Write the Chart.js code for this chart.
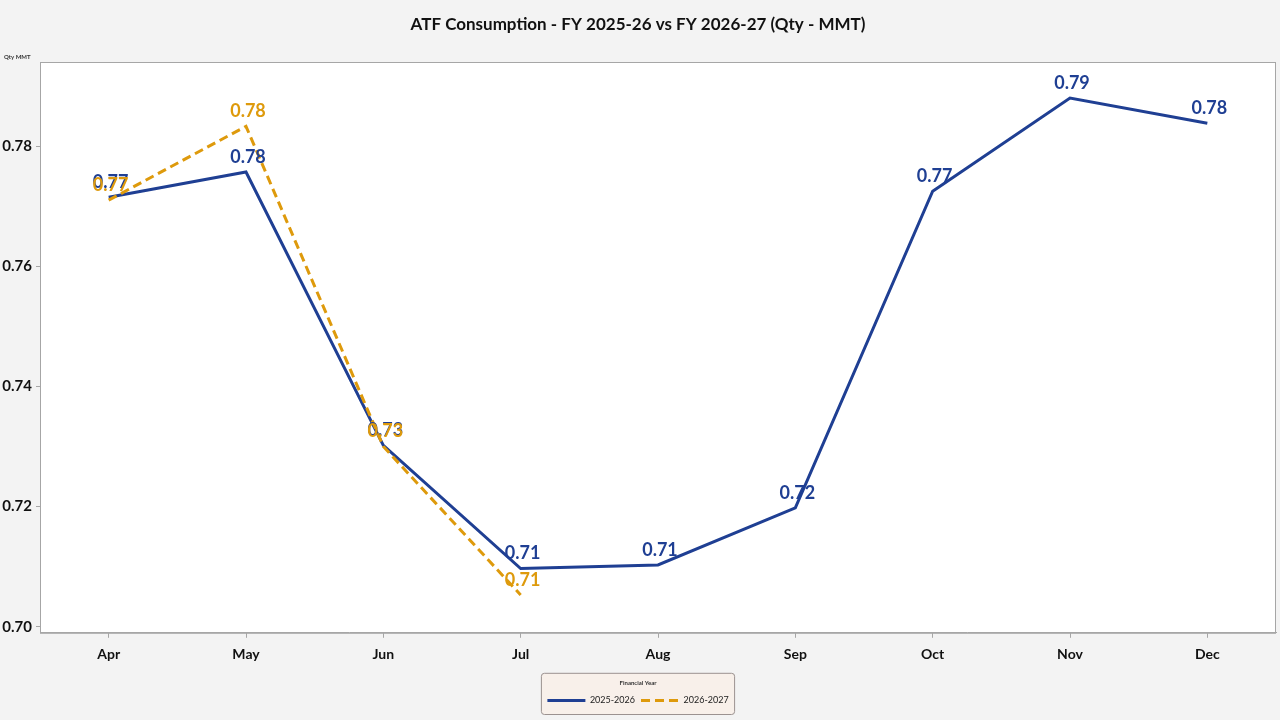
<!DOCTYPE html>
<html>
<head>
<meta charset="utf-8">
<title>ATF Consumption</title>
<script src="https://cdn.jsdelivr.net/npm/chart.js@4.4.1/dist/chart.umd.min.js"></script>
<style>
  html, body { margin: 0; padding: 0; background: #f3f3f3; }
  #wrap { width: 1280px; height: 720px; }
</style>
</head>
<body>
<div id="wrap"><canvas id="myChart" width="1280" height="720"></canvas></div>
<script>
var months = ["Apr", "May", "Jun", "Jul", "Aug", "Sep", "Oct", "Nov", "Dec"];
var fy2526 = [0.7715, 0.7757, 0.7302, 0.7097, 0.7103, 0.7198, 0.7725, 0.7880, 0.7838];
var fy2627 = [0.7710, 0.7833, 0.7300, 0.7053];
var seriesNames = ["2025-2026", "2026-2027"];
var yTicks = [0.70, 0.72, 0.74, 0.76, 0.78];

var blue = '#1f3f93';
var orange = '#de9a0c';
var fontName = 'Lato, "Open Sans", sans-serif';

// backgrounds, plot frame and legend box
const framePlugin = {
  id: 'frame',
  beforeDraw(chart) {
    const ctx = chart.ctx;
    const a = chart.chartArea;
    ctx.save();
    ctx.fillStyle = '#f3f3f3';
    ctx.fillRect(0, 0, chart.width, chart.height);
    ctx.fillStyle = '#ffffff';
    ctx.fillRect(a.left, a.top, a.right - a.left, a.bottom - a.top);
    ctx.strokeStyle = '#a6a6a6';
    ctx.lineWidth = 1;
    ctx.strokeRect(a.left + 0.5, a.top + 0.5, a.right - a.left - 1, a.bottom - a.top);

    // legend box
    const lg = chart.legend;
    if (lg && lg.legendHitBoxes && lg.legendHitBoxes.length) {
      let minX = Infinity, maxX = -Infinity;
      lg.legendHitBoxes.forEach(h => {
        minX = Math.min(minX, h.left);
        maxX = Math.max(maxX, h.left + h.width);
      });
      const x = minX - 6, y = lg.top + 0.5, w = maxX - minX + 12, h = lg.bottom - lg.top - 1;
      ctx.beginPath();
      ctx.roundRect(x, y, w, h, 3);
      ctx.fillStyle = '#f8f0ea';
      ctx.fill();
      ctx.strokeStyle = '#9b9290';
      ctx.stroke();
    }

    // y axis caption
    ctx.fillStyle = '#333333';
    ctx.font = 'bold 6px ' + fontName;
    ctx.textAlign = 'left';
    ctx.textBaseline = 'middle';
    ctx.fillText('Qty MMT', 4, 57);
    ctx.restore();
  }
};

// value labels above each point
const valueLabels = {
  id: 'valueLabels',
  afterDatasetsDraw(chart) {
    const ctx = chart.ctx;
    ctx.save();
    ctx.font = 'bold 18px ' + fontName;
    ctx.textAlign = 'center';
    ctx.textBaseline = 'middle';
    chart.data.datasets.forEach((ds, i) => {
      const meta = chart.getDatasetMeta(i);
      ctx.fillStyle = ds.borderColor;
      meta.data.forEach((pt, j) => {
        ctx.fillText(ds.data[j].toFixed(2), pt.x + 2, pt.y - 15);
      });
    });
    ctx.restore();
  }
};

const config = {
  type: 'line',
  data: {
    labels: months,
    datasets: [{
      label: seriesNames[0],
      data: fy2526,
      borderColor: blue,
      backgroundColor: blue,
      borderWidth: 3,
      pointRadius: 0,
      tension: 0,
      fill: false,
      order: 1
    }, {
      label: seriesNames[1],
      data: fy2627,
      borderColor: orange,
      backgroundColor: orange,
      borderWidth: 3,
      borderDash: [9, 5],
      pointRadius: 0,
      tension: 0,
      fill: false,
      order: 0
    }]
  },
  options: {
    responsive: false,
    animation: false,
    devicePixelRatio: 1,
    layout: { padding: { top: 0, left: 0, right: 4, bottom: 5 } },
    plugins: {
      title: {
        display: true,
        text: 'ATF Consumption - FY 2025-26 vs FY 2026-27 (Qty - MMT)',
        color: '#111111',
        font: { family: fontName, size: 17, weight: 'bold' },
        padding: { top: 14, bottom: 27.6 }
      },
      legend: {
        position: 'bottom',
        title: {
          display: true,
          text: 'Financial Year',
          color: '#333333',
          font: { family: fontName, size: 6, weight: 'bold' },
          padding: { top: 7, bottom: 3 }
        },
        labels: {
          usePointStyle: true,
          pointStyle: 'line',
          pointStyleWidth: 38,
          padding: 6,
          color: '#222222',
          font: { family: fontName, size: 9 },
          sort: (a, b) => a.datasetIndex - b.datasetIndex,
          generateLabels(chart) {
            const items = Chart.defaults.plugins.legend.labels.generateLabels(chart);
            items.forEach(it => {
              it.lineDash = chart.data.datasets[it.datasetIndex].borderDash || [];
            });
            return items;
          }
        }
      },
      tooltip: { enabled: false }
    },
    scales: {
      x: {
        offset: true,
        grid: { drawOnChartArea: false, drawTicks: true, tickLength: 5, color: '#a6a6a6' },
        border: { color: '#a6a6a6' },
        ticks: { color: '#111111', padding: 8, font: { family: fontName, size: 14, weight: 'bold' } },
        afterFit(scale) { scale.height = 40; }
      },
      y: {
        min: 0.699,
        max: 0.794,
        grid: { drawOnChartArea: false, drawTicks: true, tickLength: 4, color: '#a6a6a6' },
        border: { color: '#a6a6a6' },
        ticks: {
          color: '#111111',
          padding: 4,
          font: { family: fontName, size: 15, weight: 'bold' },
          callback: (v) => Number(v).toFixed(2)
        },
        afterBuildTicks(scale) { scale.ticks = yTicks.map(v => ({ value: v })); },
        afterFit(scale) { scale.width = 40; }
      }
    }
  },
  plugins: [framePlugin, valueLabels]
};

var ctx = document.getElementById('myChart');
var myChart = new Chart(ctx, config);
</script>
</body>
</html>
